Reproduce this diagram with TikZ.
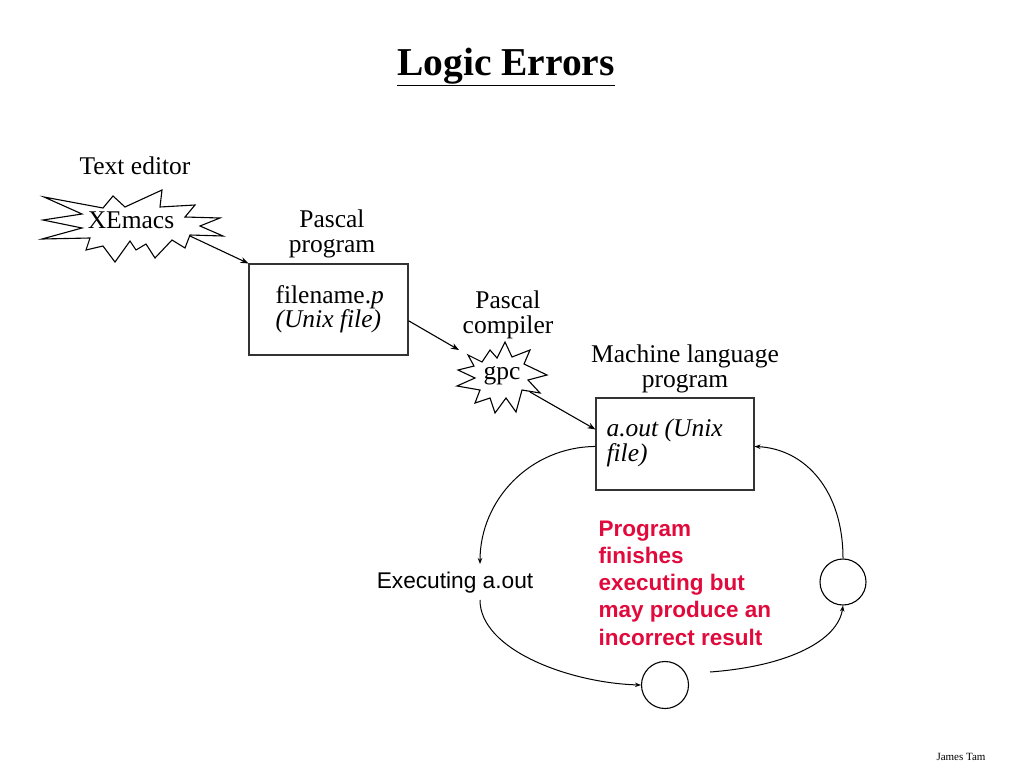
\documentclass[tikz,border=0pt]{standalone}
\usepackage{fontspec}
\setmainfont{Liberation Serif}
\newfontfamily\arialfont{Liberation Sans}
\usetikzlibrary{arrows.meta,calc}
\definecolor{redtxt}{RGB}{225,10,60}
\begin{document}
\begin{tikzpicture}[x=1pt,y=-1pt,
  line width=1.1pt,
  txt/.style={inner sep=0pt,font=\fontsize{25.5}{24.5}\selectfont},
  boxnode/.style={draw=black!80,line width=1.1pt,inner sep=0pt},
  ring/.style={draw,circle,line width=1.1pt,inner sep=0pt},
  arr/.style={-{Stealth[length=8pt,width=6pt]}},
  carr/.style={-{Stealth[length=6pt,width=4.5pt]},line width=1pt},
  burst/.style={draw,line width=1.1pt,line join=miter}]
\useasboundingbox (0,0) rectangle (1024,768);

% title
\node[inner sep=0pt,font=\fontsize{39.5}{40}\selectfont\bfseries] (title) at (506,67) {\underline{Logic Errors}};

% text editor
\node[txt] (te) at (135,166) {Text editor};
\draw[burst] (44,197) -- (103,208) -- (113,196) -- (125,207) -- (162,190) -- (160,207)
  -- (195,205) -- (185,217) -- (220,218) -- (200,226) -- (223,236) -- (190,235)
  -- (185,248) -- (172,240) -- (155,258) -- (146,244) -- (136,250) -- (130,241)
  -- (115,262) -- (103,246) -- (86,250) -- (90,238) -- (42,239) -- (82,228)
  -- (43,220) -- (82,214) -- cycle;
\node[txt] (xe) at (131,220) {XEmacs};
\coordinate (xeout) at (190,236);

% Pascal program
\node[txt,align=center] (pp) at (332,234) {Pascal\\program};
\node[boxnode,minimum width=159pt,minimum height=91pt] (fbox) at (328.5,309.5) {};
\node[txt,align=left,anchor=west] (ftxt) at (275,309) {filename.\textit{p}\\\textit{(Unix file)}};

% compiler
\node[txt,align=center] (pc) at (508,315) {Pascal\\compiler};
\draw[burst] (468,355) -- (482,362) -- (490,350) -- (497,358) -- (505,342) -- (512,357)
  -- (530,350) -- (524,364) -- (547,375) -- (528,380) -- (540,393) -- (522,390)
  -- (516,412) -- (506,398) -- (495,413) -- (490,398) -- (475,403) -- (480,390)
  -- (457,386) -- (475,378) -- (458,370) -- (474,366) -- cycle;
\node[txt] (gpc) at (502,376) {gpc};
\coordinate (gpcin) at (459,350);
\coordinate (gpcout) at (530,392);

% machine language
\node[txt,align=center] (ml) at (685,369) {Machine language\\program};
\node[boxnode,minimum width=158pt,minimum height=92pt] (abox) at (675,444) {};
\node[txt,align=left,anchor=west] (atxt) at (606,443) {\textit{a.out (Unix}\\\textit{file)}};
\coordinate (ain) at ($(abox.north west)+(0,32)$);

% arrows of the pipeline
\draw[arr] (xeout) -- (fbox.north west);
\draw[arr] (fbox.-8) -- (gpcin);
\draw[arr] (gpcout) -- (ain);

% execution cycle
\node[font=\arialfont\fontsize{22.7}{24}\selectfont,inner sep=0pt] (exec) at (455,583) {Executing a.out};
\node[ring,minimum size=47pt] (c1) at (665,685) {};
\node[ring,minimum size=46pt] (c2) at (843,582) {};
\node[font=\arialfont\bfseries\fontsize{22.5}{27.3}\selectfont,text=redtxt,align=left,anchor=west,inner sep=0pt] (red) at (598,583)
  {Program\\finishes\\executing but\\may produce an\\incorrect result};

\coordinate (aleft) at ($(abox.north west)+(0,49)$);
\coordinate (aright) at ($(abox.north east)+(0,49)$);
\coordinate (exin) at (480,564);
\coordinate (exout) at (480,600);
\coordinate (c1out) at (710,672);

\draw[carr] (aleft) .. controls (530,447) and (480,500) .. (exin);
\draw[carr] (exout) .. controls (480,650) and (570,683) .. (c1.west);
\draw[carr] (c1out) .. controls (790,666) and (838,640) .. (c2.south);
\draw[carr] (c2.north) .. controls (843,490) and (805,449) .. (aright);

% footer
\node[inner sep=0pt,font=\fontsize{11}{12}\selectfont] (jt) at (961,757) {James Tam};
\end{tikzpicture}
\end{document}
